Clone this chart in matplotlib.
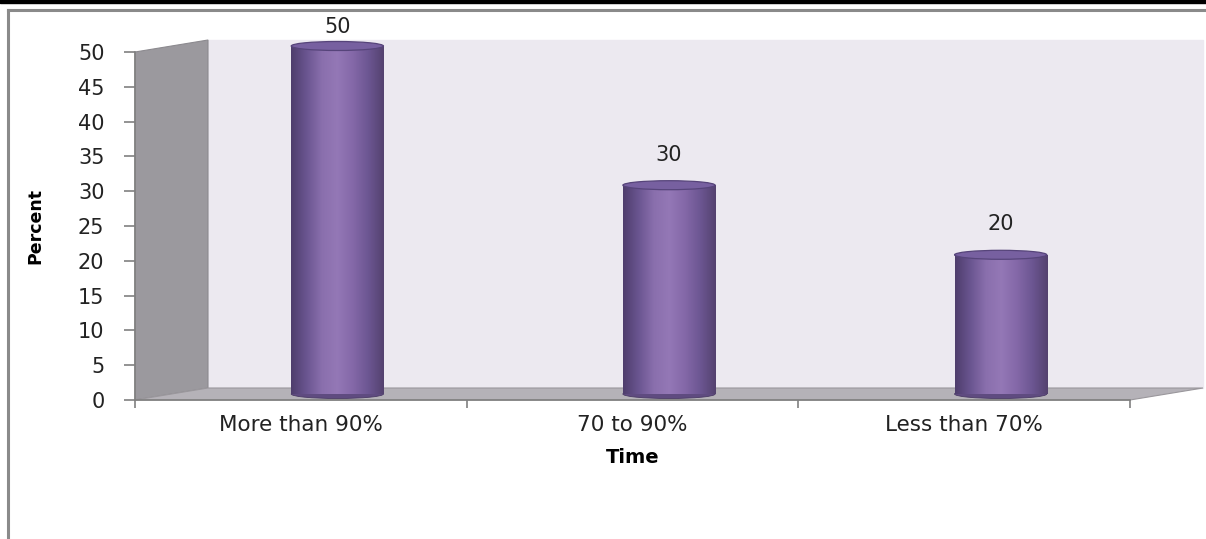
import numpy as np
import matplotlib
matplotlib.use("Agg")
import matplotlib.pyplot as plt
from matplotlib.colors import LinearSegmentedColormap
from matplotlib.patches import Polygon, Ellipse, Rectangle

categories = ["More than 90%", "70 to 90%", "Less than 70%"]
percent = [50, 30, 20]
yticks = [0, 5, 10, 15, 20, 25, 30, 35, 40, 45, 50]

W, H = 1206, 539
fig = plt.figure(figsize=(W / 100, H / 100), dpi=100)
plt.rcParams['font.family'] = 'DejaVu Sans'

# background overlay in pixel coords (top-left origin)
bg = fig.add_axes([0, 0, 1, 1], zorder=0)
bg.set_xlim(0, W)
bg.set_ylim(H, 0)
bg.axis("off")

# front plane of the chart, px
L, R, T, B = 135, 1130, 52, 400
DX, DY = 73, 12  # depth of the 3d box

def px_axes(l, r, t, b):
    return [l / W, (H - b) / H, (r - l) / W, (b - t) / H]

# top banner + frame
grad = np.linspace(0, 1, 256)[None, :]
bar_cmap = LinearSegmentedColormap.from_list("bn", ["#000000", "#000000", "#111111", "#555555", "#ffffff"])
bg.imshow(grad ** 6, extent=[0, W, 4.5, 0], aspect="auto", cmap=bar_cmap, zorder=1)
bg.add_patch(Rectangle((0, 0), W, 3.2, color="black", zorder=2))
bg.plot([8, 8], [10, H], color="#8a8a8a", lw=2.2, zorder=2)
bg.plot([8, W], [10, 10], color="#8a8a8a", lw=2.2, zorder=2)

# walls and floor
bg.add_patch(Rectangle((L + DX, T - DY), R - L, B - T, color="#ece9f0", zorder=1))
bg.add_patch(Polygon([(L, T), (L + DX, T - DY), (L + DX, B - DY), (L, B)],
                     closed=True, facecolor="#9b999e", edgecolor="#8c8a8f", lw=0.8, zorder=2))
bg.add_patch(Polygon([(L, B), (L + DX, B - DY), (R + DX, B - DY), (R, B)],
                     closed=True, facecolor="#b5b2b8", edgecolor="#9a979c", lw=0.8, zorder=2))

# front axis (ticks/labels)
ax = fig.add_axes(px_axes(L, R, T, B), zorder=1)
ax.set_facecolor("none")
ax.set_xlim(0, len(categories))
ax.set_ylim(0, 50)
ax.set_yticks(yticks)
ax.set_yticklabels([str(t) for t in yticks], fontsize=15, color="#222222")
ax.set_xticks(np.arange(len(categories)) + 0.5)
ax.set_xticklabels(categories, fontsize=15.5, color="#222222")
ax.set_xticks(np.arange(len(categories) + 1), minor=True)
ax.tick_params(axis="x", which="major", length=0, pad=11)
ax.tick_params(axis="x", which="minor", length=6, color="#808080", width=1.2)
ax.tick_params(axis="y", length=8, color="#808080", width=1.2, pad=14)
for s in ["top", "right"]:
    ax.spines[s].set_visible(False)
ax.spines["left"].set_color("#808080")
ax.spines["bottom"].set_color("#808080")
ax.spines["left"].set_linewidth(1.2)
ax.spines["bottom"].set_linewidth(1.2)
ax.set_ylabel("Percent", fontsize=12.5, fontweight="bold", labelpad=24)
ax.set_xlabel("Time", fontsize=14, fontweight="bold", labelpad=9)

# mid-depth axes for the cylinders
ax2 = fig.add_axes(px_axes(L + DX / 2, R + DX / 2, T - DY / 2, B - DY / 2), zorder=2)
ax2.set_facecolor("none")
ax2.axis("off")

cyl = LinearSegmentedColormap.from_list(
    "cyl", ["#4e3d6c", "#6a5590", "#8a6fad", "#9478b6", "#8468a8", "#6c5692", "#54426f"])
x = np.arange(len(categories)) + 0.5
bw = 0.278
ppu = (B - T) / 50.0
eh = 9 / ppu

rects = ax2.bar(x, percent, width=bw, color="none", edgecolor="none")
for xi, v, rect in zip(x, percent, rects):
    ax2.add_patch(Ellipse((xi, 0), bw, eh, facecolor="#5f4b80", edgecolor="#4b3b66",
                          lw=0.6, zorder=2, clip_on=False))
    im = ax2.imshow(grad, extent=[xi - bw / 2, xi + bw / 2, 0, v], aspect="auto",
                    cmap=cyl, zorder=3)
    im.set_clip_path(rect)
    ax2.add_patch(Ellipse((xi, v), bw, eh, facecolor="#7760a0", edgecolor="#56447a",
                          lw=0.9, zorder=4, clip_on=False))
    ax2.text(xi, min(v + 4.4, 52.7), str(v), ha="center", va="center", fontsize=15,
             color="#222222", clip_on=False)

ax2.set_xlim(0, len(categories))
ax2.set_ylim(0, 50)

fig.savefig("out.png", dpi=100)
